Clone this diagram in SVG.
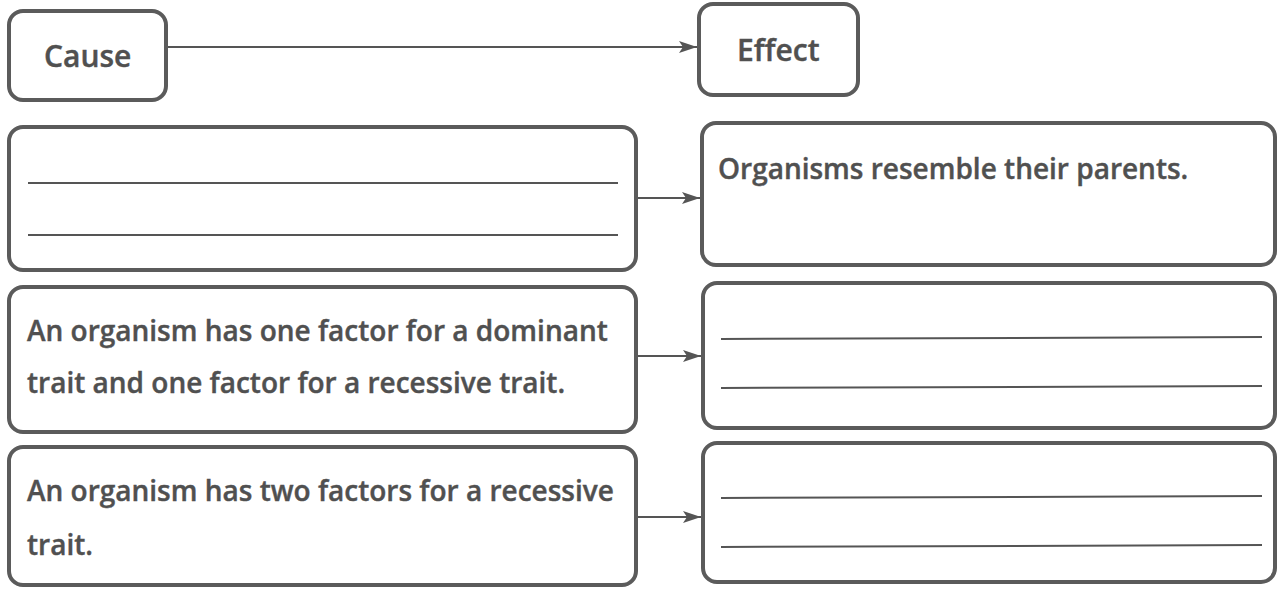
<svg xmlns="http://www.w3.org/2000/svg" width="1279" height="589" viewBox="0 0 1279 589">
<style>
.box{fill:#fff;stroke:#5b5b5b;stroke-width:4}
.t{font-family:"Open Sans","Liberation Sans",sans-serif;font-weight:600;fill:#505050;font-size:28px;stroke:#505050;stroke-width:0.4}
.h{font-size:30px}
.rule{stroke:#555;stroke-width:2}
.conn{stroke:#555;stroke-width:2;fill:none}
</style>
<defs>
<marker id="ah" viewBox="0 0 18 12" refX="18" refY="6" markerWidth="18" markerHeight="12" markerUnits="userSpaceOnUse" orient="auto">
<path d="M0,0 L18,6 L0,12 L4,6 Z" fill="#555"/>
</marker>
</defs>
<rect width="1279" height="589" fill="#fff"/>
<g id="connectors">
<line class="conn" x1="167" y1="47" x2="697" y2="47" marker-end="url(#ah)"/>
<line class="conn" x1="636" y1="198" x2="700" y2="198" marker-end="url(#ah)"/>
<line class="conn" x1="636" y1="356" x2="701" y2="356" marker-end="url(#ah)"/>
<line class="conn" x1="636" y1="517" x2="701" y2="517" marker-end="url(#ah)"/>
</g>
<g id="cause">
<rect class="box" x="9" y="11" width="157" height="89" rx="14"/>
<text class="t h" x="44" y="67">Cause</text>
</g>
<g id="effect">
<rect class="box" x="699" y="4" width="159" height="91" rx="14"/>
<text class="t h" x="737" y="61">Effect</text>
</g>
<g id="cause1">
<rect class="box" x="9" y="127" width="627" height="143" rx="14"/>
<line class="rule" x1="28" y1="183" x2="618" y2="183"/>
<line class="rule" x1="28" y1="235" x2="618" y2="235"/>
</g>
<g id="effect1">
<rect class="box" x="702" y="123" width="573" height="142" rx="14"/>
<text class="t" x="718" y="179">Organisms resemble their parents.</text>
</g>
<g id="cause2">
<rect class="box" x="9" y="287" width="627" height="145" rx="14"/>
<text class="t" x="27" y="341">An organism has one factor for a dominant</text>
<text class="t" x="27" y="393">trait and one factor for a recessive trait.</text>
</g>
<g id="effect2">
<rect class="box" x="703" y="283" width="572" height="145" rx="14"/>
<line class="rule" x1="721" y1="339" x2="1262" y2="337"/>
<line class="rule" x1="721" y1="388" x2="1262" y2="386"/>
</g>
<g id="cause3">
<rect class="box" x="9" y="447" width="627" height="138" rx="14"/>
<text class="t" x="27" y="501">An organism has two factors for a recessive</text>
<text class="t" x="27" y="555">trait.</text>
</g>
<g id="effect3">
<rect class="box" x="703" y="443" width="572" height="139" rx="14"/>
<line class="rule" x1="721" y1="498" x2="1262" y2="496"/>
<line class="rule" x1="721" y1="547" x2="1262" y2="545"/>
</g>
</svg>
